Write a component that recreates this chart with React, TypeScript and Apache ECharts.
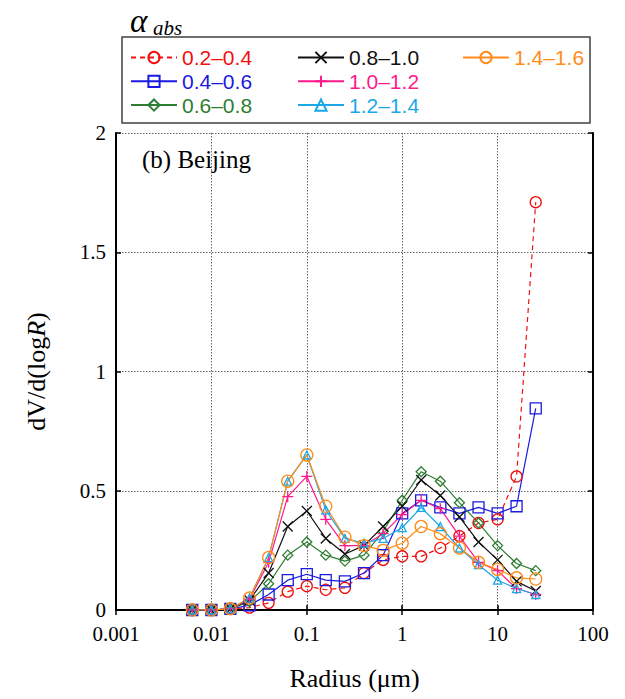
import React, { useEffect, useRef } from "react";
import * as echarts from "echarts";

// Particle radius bins (µm), log-spaced by 0.2 decades
const radius = [
  0.0063, 0.01, 0.0158, 0.0251, 0.0398, 0.0631, 0.1, 0.158, 0.251, 0.398,
  0.631, 1, 1.58, 2.51, 3.98, 6.31, 10, 15.8, 25.1,
];

// dV/d(logR) for each absorption Ångström exponent class
const a0204 = [0, 0, 0.005, 0.01, 0.03, 0.077, 0.1, 0.085, 0.093, 0.155, 0.21, 0.225, 0.225, 0.26, 0.31, 0.365, 0.38, 0.56, 1.71];
const a0406 = [0, 0, 0.005, 0.02, 0.065, 0.125, 0.15, 0.125, 0.12, 0.155, 0.23, 0.405, 0.46, 0.43, 0.405, 0.43, 0.405, 0.435, 0.845];
const a0608 = [0, 0, 0.005, 0.035, 0.11, 0.23, 0.285, 0.23, 0.205, 0.23, 0.33, 0.46, 0.58, 0.54, 0.45, 0.365, 0.27, 0.195, 0.165];
const a0810 = [0, 0, 0.005, 0.04, 0.155, 0.35, 0.415, 0.3, 0.235, 0.27, 0.35, 0.435, 0.545, 0.48, 0.39, 0.285, 0.21, 0.12, 0.08];
const a1012 = [0, 0, 0.005, 0.045, 0.2, 0.475, 0.56, 0.38, 0.27, 0.27, 0.32, 0.4, 0.46, 0.425, 0.31, 0.2, 0.165, 0.09, 0.065];
const a1214 = [0, 0, 0.005, 0.05, 0.22, 0.54, 0.65, 0.42, 0.3, 0.28, 0.3, 0.345, 0.43, 0.35, 0.26, 0.19, 0.125, 0.09, 0.065];
const a1416 = [0, 0, 0.005, 0.05, 0.22, 0.54, 0.65, 0.435, 0.305, 0.27, 0.25, 0.28, 0.35, 0.32, 0.26, 0.2, 0.17, 0.135, 0.13];

const xTickLabels = ["0.001", "0.01", "0.1", "1", "10", "100"];
const yTickLabels = ["0", "0.5", "1", "1.5", "2"];

const SERIF = "'Liberation Serif', 'Times New Roman', serif";
const SANS = "'Liberation Sans', Arial, sans-serif";

const CROSS = "path://M0,0 L10,10 M10,0 L0,10";
const PLUS = "path://M5,0 L5,10 M0,5 L10,5";

type Def = {
  name: string;
  data: number[];
  color: string;
  symbol: string;
  size: number;
  dashed?: boolean;
};

const defs: Def[] = [
  { name: "0.2–0.4", data: a0204, color: "#f01010", symbol: "circle", size: 11, dashed: true },
  { name: "0.4–0.6", data: a0406, color: "#1a1ae0", symbol: "rect", size: 11 },
  { name: "0.6–0.8", data: a0608, color: "#2e7d32", symbol: "diamond", size: 10 },
  { name: "0.8–1.0", data: a0810, color: "#111111", symbol: CROSS, size: 10 },
  { name: "1.0–1.2", data: a1012, color: "#ff1a8c", symbol: PLUS, size: 11 },
  { name: "1.2–1.4", data: a1214, color: "#1aa8e8", symbol: "triangle", size: 8 },
  { name: "1.4–1.6", data: a1416, color: "#ff8c1a", symbol: "circle", size: 12 },
];

export default function App() {
  const ref = useRef<HTMLDivElement>(null);

  useEffect(() => {
    if (!ref.current) return;
    const chart = echarts.init(ref.current, undefined, { renderer: "svg" });

    const series = defs.map((d) => ({
      name: d.name,
      type: "line",
      xAxisIndex: 0,
      yAxisIndex: 0,
      data: radius.map((r, i) => [r, d.data[i]]),
      symbol: d.symbol,
      symbolSize: d.size,
      showAllSymbol: true,
      lineStyle: { color: d.color, width: 1.2, type: d.dashed ? [5, 4] : "solid" },
      itemStyle: { color: "transparent", borderColor: d.color, borderWidth: 1.3 },
      emphasis: { disabled: true },
    }));

    const legendGroup = (left: number, items: Def[]) => ({
      orient: "vertical",
      left,
      top: 47,
      itemWidth: 46,
      itemHeight: 14,
      itemGap: 2.8,
      padding: 0,
      selectedMode: false,
      textStyle: { fontFamily: SANS, fontSize: 21 },
      data: items.map((d) => ({ name: d.name, textStyle: { color: d.color } })),
    });

    const baseX = {
      type: "log",
      logBase: 10,
      min: 0.001,
      max: 100,
      axisLine: { lineStyle: { color: "#000", width: 2 } },
      axisTick: { inside: true, length: 5, lineStyle: { color: "#000", width: 1.5 } },
      minorTick: { show: false },
    };
    const baseY = {
      type: "value",
      min: 0,
      max: 2,
      interval: 0.5,
      axisLine: { show: true, lineStyle: { color: "#000", width: 2 } },
      axisTick: { show: true, inside: true, length: 5, lineStyle: { color: "#000", width: 1.5 } },
    };

    chart.setOption({
      animation: false,
      backgroundColor: "#fff",
      grid: { left: 116, right: 32, top: 133, bottom: 89 },
      legend: [
        legendGroup(130, defs.slice(0, 3)),
        legendGroup(297, defs.slice(3, 6)),
        legendGroup(462, defs.slice(6)),
      ],
      xAxis: [
        {
          ...baseX,
          position: "bottom",
          name: "Radius (μm)",
          nameLocation: "middle",
          nameGap: 55,
          nameTextStyle: { fontFamily: SERIF, fontSize: 26, color: "#000" },
          axisLabel: {
            fontFamily: SERIF,
            fontSize: 21,
            color: "#000",
            margin: 13,
            formatter: (v: number) => xTickLabels[Math.round(Math.log10(v)) + 3] ?? "",
          },
          splitLine: { show: true, lineStyle: { color: "#666", width: 1, type: [1.5, 1.5] } },
        },
        {
          ...baseX,
          position: "top",
          axisLabel: { show: false },
          splitLine: { show: false },
        },
      ],
      yAxis: [
        {
          ...baseY,
          position: "left",
          name: "dV/d(log{i|R})",
          nameLocation: "middle",
          nameRotate: 90,
          nameGap: 67,
          nameTextStyle: {
            fontFamily: SERIF,
            fontSize: 26,
            color: "#000",
            rich: { i: { fontFamily: SERIF, fontSize: 26, fontStyle: "italic", color: "#000" } },
          },
          axisLabel: {
            fontFamily: SERIF,
            fontSize: 21,
            color: "#000",
            margin: 10,
            formatter: (v: number) => yTickLabels[Math.round(v / 0.5)] ?? "",
          },
          splitLine: { show: true, lineStyle: { color: "#666", width: 1, type: [1.5, 1.5] } },
        },
        {
          ...baseY,
          position: "right",
          axisLabel: { show: false },
          splitLine: { show: false },
        },
      ],
      graphic: [
        {
          type: "text",
          left: 130,
          top: 4,
          style: { text: "α", fontFamily: SERIF, fontStyle: "italic", fontSize: 33, fill: "#000" },
        },
        {
          type: "text",
          left: 153,
          top: 17,
          style: { text: "abs", fontFamily: SERIF, fontStyle: "italic", fontSize: 21, fill: "#000" },
        },
        {
          type: "rect",
          shape: { x: 122, y: 37, width: 468, height: 86 },
          style: { fill: "none", stroke: "#404040", lineWidth: 1.5 },
        },
        {
          type: "text",
          left: 142,
          top: 147,
          style: { text: "(b) Beijing", fontFamily: SERIF, fontSize: 25, fill: "#000" },
        },
      ],
      series,
    });

    return () => chart.dispose();
  }, []);

  return (
    <div
      ref={ref}
      style={{ position: "fixed", left: 0, top: 0, width: 625, height: 699, background: "#fff" }}
    />
  );
}
